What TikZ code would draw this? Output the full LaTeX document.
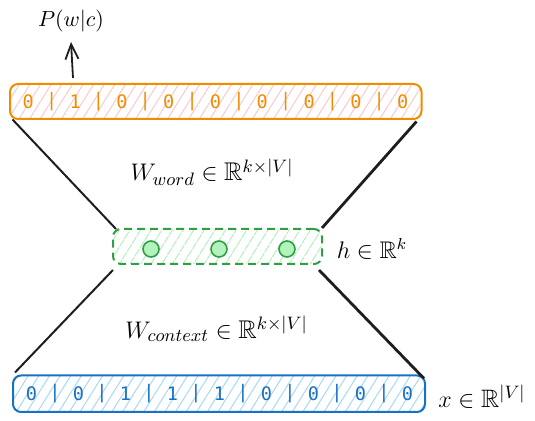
\documentclass[tikz,border=0pt]{standalone}
\usepackage{amsmath,amssymb}
\usepackage{fontspec}
\newfontfamily\digitfont{DejaVu Sans Mono}
\usetikzlibrary{patterns.meta,arrows.meta,calc}
\definecolor{orng}{HTML}{F08C00}
\definecolor{pinkh}{HTML}{FFC9C9}
\definecolor{blu}{HTML}{1971C2}
\definecolor{bluh}{HTML}{A5D8FF}
\definecolor{grn}{HTML}{2F9E44}
\definecolor{grnh}{HTML}{B2F2BB}
\definecolor{ink}{HTML}{1E1E1E}
\tikzset{
  vecbox/.style={draw=#1, line width=1pt, rounded corners=4pt, inner sep=0pt},
  hatch/.style={pattern={Lines[angle=58,distance=4.5pt,line width=0.5pt]}, pattern color=#1},
  digit/.style={text=#1, font=\digitfont\fontsize{9.3}{10}\selectfont, inner sep=0pt},
  conn/.style={draw=ink, line width=#1},
  lbl/.style={inner sep=0pt, text=black, font=\fontsize{12}{14}\selectfont},
  wlbl/.style={lbl, font=\fontsize{12.8}{15}\selectfont},
}
\begin{document}
\begin{tikzpicture}[x=0.5pt,y=-0.5pt]
\useasboundingbox (0,0) rectangle (535,421);
% boxes
\node[vecbox=orng, hatch=pinkh, minimum width=205.75pt, minimum height=17.5pt] (top) at (215.75,101.5) {};
\node[vecbox=grn, hatch=grnh, dashed, dash pattern=on 4pt off 2.5pt, minimum width=104.5pt, minimum height=17.5pt] (hid) at (217.5,246.5) {};
\node[vecbox=blu, hatch=bluh, minimum width=206pt, minimum height=18.25pt] (bot) at (219,393.75) {};
% top digits
\foreach \d [count=\i from 0] in {0,1,0,0,0,0,0,0,0} {
  \node[digit=orng] (t\i) at (28.3+46.8*\i,102) {\d};
}
\foreach \i in {0,...,7} {
  \node[digit=orng] (tb\i) at (51.7+46.8*\i,102) {|};
}
% bottom digits
\foreach \d [count=\i from 0] in {0,0,1,1,1,0,0,0,0} {
  \node[digit=blu] (b\i) at (31.5+47*\i,394) {\d};
}
\foreach \i in {0,...,7} {
  \node[digit=blu] (bb\i) at (55+47*\i,394) {|};
}
% hidden units
\foreach \x [count=\i] in {151,219,287} {
  \node[circle, draw=grn, fill=grnh, line width=0.8pt, minimum size=8pt, inner sep=0pt] (c\i) at (\x,249) {};
}
% connectors
\draw[conn=1pt] ($(top.south west)+(3,0)$) -- ($(hid.north west)+(4,1)$);
\draw[conn=1.4pt] ($(top.south east)+(-5.5,2)$) -- ($(hid.north east)+(-1,0)$);
\draw[conn=1pt] ($(hid.south west)+(1,5)$) -- ($(bot.north west)+(3,-2)$);
\draw[conn=1.4pt] ($(hid.south east)+(-4,5)$) -- ($(bot.north east)+(-2,4)$);
% labels
\node[lbl, font=\fontsize{11}{13}\selectfont] (p) at (71,21) {$P(w|c)$};
\coordinate (as) at (73,78);
\coordinate (at) at (71,42);
\draw[conn=0.9pt, -{Straight Barb[length=7.5pt,width=6.5pt]}] (as) -- (at);
\node[wlbl] (ww) at (212,172) {$W_{word}\in\mathbb{R}^{k\times|V|}$};
\node[wlbl] (wc) at (216.5,329) {$W_{context}\in\mathbb{R}^{k\times|V|}$};
\node[lbl] (hl) at (372,249) {$h\in\mathbb{R}^{k}$};
\node[lbl, font=\fontsize{12.6}{15}\selectfont] (xl) at (482,397) {$x\in\mathbb{R}^{|V|}$};
\end{tikzpicture}
\end{document}
